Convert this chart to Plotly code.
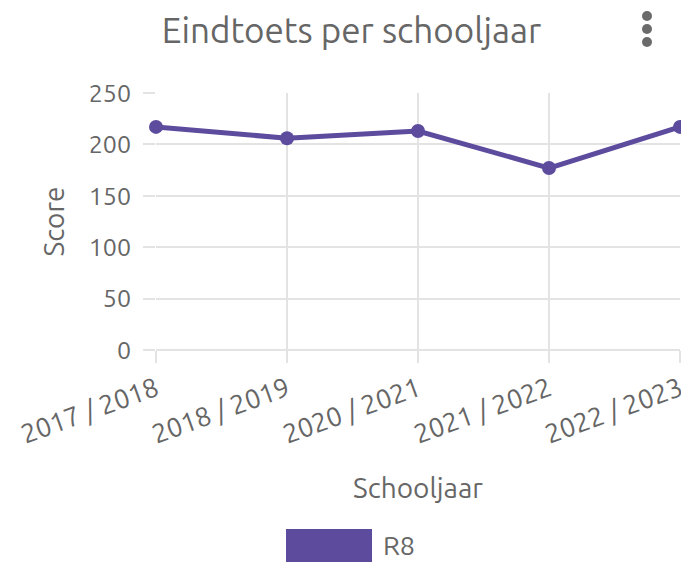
import plotly.graph_objects as go

categories = ["2017 / 2018", "2018 / 2019", "2020 / 2021", "2021 / 2022", "2022 / 2023"]
scores = [217, 206, 213, 177, 217]
series_name = "R8"
y_ticks = [0, 50, 100, 150, 200, 250]

purple = "#5d4b9d"
grey_text = "#666666"
grid = "#e3e3e3"
FONT = "Ubuntu, Open Sans, Lato, sans-serif"

W, H = 681, 562
L, R, T, B = 156, 680, 93, 350  # plot area in page pixels


def px(x):
    return (x - L) / (R - L)


def py(y):
    return (B - y) / (B - T)


fig = go.Figure()
fig.add_trace(go.Scatter(
    x=categories, y=scores, mode="lines+markers", name=series_name,
    line=dict(color=purple, width=5), marker=dict(color=purple, size=14),
    showlegend=False, cliponaxis=False,
))

fig.update_layout(
    width=W, height=H,
    margin=dict(l=L, r=W - R, t=T, b=H - B, autoexpand=False),
    paper_bgcolor="white", plot_bgcolor="white",
    font=dict(family=FONT, color=grey_text, size=25),
    title=dict(text="Eindtoets per schooljaar", x=351.5 / W, xanchor="center",
               y=1 - 31 / H, yanchor="middle",
               font=dict(size=35, color=grey_text, family=FONT)),
    xaxis=dict(
        type="category", range=[0, len(categories) - 1],
        showgrid=True, gridcolor=grid, gridwidth=1.5,
        ticks="outside", ticklen=12, tickcolor=grid, tickwidth=1.5,
        tickangle=-20, tickfont=dict(size=27, color=grey_text),
        showline=False, zeroline=False, automargin=False,
        title=dict(text="Schooljaar", font=dict(size=28, color=grey_text), standoff=30),
    ),
    yaxis=dict(
        range=[0, 250], tickvals=y_ticks,
        showgrid=True, gridcolor=grid, gridwidth=1.5,
        ticks="outside", ticklen=12, tickcolor=grid, tickwidth=1.5,
        tickfont=dict(size=25, color=grey_text), ticklabelstandoff=7,
        showline=False, zeroline=True, zerolinecolor=grid, zerolinewidth=2, automargin=False,
        title=dict(text="Score", font=dict(size=28, color=grey_text), standoff=15),
    ),
)

# legend swatch (drawn as paper shape + label)
fig.add_shape(type="rect", xref="paper", yref="paper",
              x0=px(286), x1=px(372), y0=py(570), y1=py(529),
              fillcolor=purple, line=dict(width=0), layer="above")
fig.add_annotation(text=series_name, xref="paper", yref="paper",
                   x=px(381), y=py(545), xanchor="left", yanchor="middle",
                   showarrow=False, font=dict(size=27, color=grey_text, family=FONT))

# menu icon (three dots)
for cy in [16, 29, 42]:
    fig.add_shape(type="circle", xref="paper", yref="paper",
                  x0=px(642), x1=px(652), y0=py(cy + 5), y1=py(cy - 5),
                  fillcolor="#6b6b6b", line=dict(width=0))

fig.write_html(
    "out.html",
    config={"displayModeBar": False},
    post_script="document.documentElement.style.overflow='hidden';"
                "document.body.style.margin='0';document.body.style.overflow='hidden';",
)
